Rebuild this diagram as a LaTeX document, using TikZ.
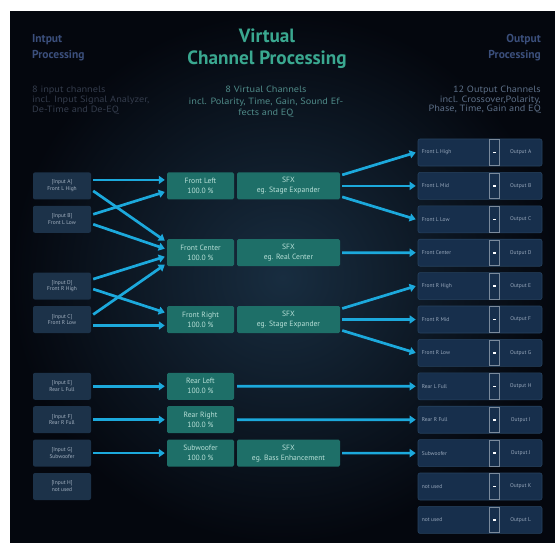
\documentclass[tikz,border=0pt]{standalone}
\usepackage{fontspec}
\setmainfont{PT Sans}
\newfontfamily\descfont[FakeStretch=1.13]{PT Sans}
\usetikzlibrary{arrows.meta,calc}
\definecolor{bgc}{HTML}{04070E}
\definecolor{glowc}{HTML}{182D40}
\definecolor{hdrblue}{HTML}{3B4F7C}
\definecolor{descl}{HTML}{343C4C}
\definecolor{descm}{HTML}{4F8A88}
\definecolor{descr}{HTML}{5C6E86}
\definecolor{titlec}{HTML}{3AA890}
\definecolor{infill}{HTML}{1C3249}
\definecolor{intext}{HTML}{A4B2C2}
\definecolor{vfill}{HTML}{1E6F68}
\definecolor{vtext}{HTML}{B8E0D8}
\definecolor{ofill}{HTML}{172F4C}
\definecolor{oborder}{HTML}{26425F}
\definecolor{otext}{HTML}{98A8BC}
\definecolor{arrc}{HTML}{1CA9DC}
\definecolor{ddc}{HTML}{7A8A9C}
\tikzset{
  inbox/.style={rectangle, rounded corners=2pt, fill=infill, minimum width=58pt, minimum height=27pt, inner sep=0pt, align=center, text=intext, font=\fontsize{5.5}{6.8}\selectfont},
  vbox/.style={rectangle, rounded corners=1.5pt, fill=vfill, minimum width=67pt, minimum height=27pt, inner sep=0pt, align=center, text=vtext, font=\fontsize{7.6}{10}\selectfont},
  sfxbox/.style={vbox, minimum width=103pt},
  outbox/.style={rectangle, rounded corners=2pt, fill=ofill, draw=oborder, line width=0.6pt, minimum width=124pt, minimum height=27pt, inner sep=0pt},
  olabel/.style={inner sep=0pt, text=otext, font=\fontsize{5.5}{6.5}\selectfont},
  ddbox/.style={draw=ddc, line width=0.6pt},
  arr/.style={draw=arrc, line width=2.7pt, -{Triangle[length=6pt,width=8pt]}},
  hdr/.style={inner sep=0pt, text=hdrblue, font=\fontsize{11.5}{13}\selectfont\bfseries},
  ttl/.style={inner sep=0pt, text=titlec, font=\fontsize{19.2}{22}\selectfont\bfseries},
  dsc/.style={inner sep=0pt, font=\descfont\fontsize{9.1}{10}\selectfont},
}
\begin{document}
\begin{tikzpicture}[x=1pt,y=-1pt]
\useasboundingbox (0,0) rectangle (555,543);
\fill[white] (0,0) rectangle (555,543);
\shade[inner color=glowc, outer color=bgc] (10,12) rectangle (555,543);
% headers
\node[hdr, anchor=base west] (h1) at (32,43) {Intput};
\node[hdr, anchor=base west] (h2) at (32,59) {Processing};
\node[ttl, anchor=base] (t1) at (267,43) {Virtual};
\node[ttl, anchor=base] (t2) at (267,65) {Channel Processing};
\node[hdr, anchor=base east] (h3) at (541,43) {Output};
\node[hdr, anchor=base east] (h4) at (541,59) {Processing};
% descriptions
\node[dsc, text=descl, anchor=base west] (d1) at (32,92.5) {8 input channels};
\node[dsc, text=descl, anchor=base west] (d2) at (32,102.5) {incl. Input Signal Analyzer,};
\node[dsc, text=descl, anchor=base west] (d3) at (32,112.5) {De-Time and De-EQ};
\node[dsc, text=descm, anchor=base] (d4) at (266,93) {8 Virtual Channels};
\node[dsc, text=descm, anchor=base] (d5) at (266,104.5) {incl. Polarity, Time, Gain, Sound Ef-};
\node[dsc, text=descm, anchor=base] (d6) at (266,116) {fects and EQ};
\node[dsc, text=descr, anchor=base east] (d7) at (541,93) {12 Output Channels};
\node[dsc, text=descr, anchor=base east] (d8) at (541,102.5) {incl. Crossover,Polarity,};
\node[dsc, text=descr, anchor=base east] (d9) at (541,112) {Phase, Time, Gain and EQ};
% input boxes
\node[inbox] (inA) at (62,185.9) {[Input A]\\Front L High};
\node[inbox] (inB) at (62,219.3) {[Input B]\\Front L Low};
\node[inbox] (inD) at (62,286.1) {[Input D]\\Front R High};
\node[inbox] (inC) at (62,319.5) {[Input C]\\Front R Low};
\node[inbox] (inE) at (62,386.3) {[Input E]\\Rear L Full};
\node[inbox] (inF) at (62,419.7) {[Input F]\\Rear R Full};
\node[inbox] (inG) at (62,453.1) {[Input G]\\Subwoofer};
\node[inbox] (inH) at (62,486.5) {[Input H]\\not used};
% virtual boxes
\node[vbox] (vFL) at (200.5,185.9) {Front Left\\100.0 \%};
\node[vbox] (vFC) at (200.5,252.7) {Front Center\\100.0 \%};
\node[vbox] (vFR) at (200.5,319.5) {Front Right\\100.0 \%};
\node[vbox] (vRL) at (200.5,386.3) {Rear Left\\100.0 \%};
\node[vbox] (vRR) at (200.5,419.7) {Rear Right\\100.0 \%};
\node[vbox] (vSub) at (200.5,453.1) {Subwoofer\\100.0 \%};
\node[sfxbox] (sFL) at (288.5,185.9) {SFX\\eg. Stage Expander};
\node[sfxbox] (sFC) at (288.5,252.7) {SFX\\eg. Real Center};
\node[sfxbox] (sFR) at (288.5,319.5) {SFX\\eg. Stage Expander};
\node[sfxbox] (sSub) at (288.5,453.1) {SFX\\eg. Bass Enhancement};
% output boxes
\foreach \r/\k/\lab in {0/A/Front L High, 1/B/Front L Mid, 2/C/Front L Low, 3/D/Front Center, 4/E/Front R High, 5/F/Front R Mid, 6/G/Front R Low, 7/H/Rear L Full, 8/I/Rear R Full, 9/J/Subwoofer, 10/K/not used, 11/L/not used}{
  \node[outbox] (o\k) at (480,152.5+33.4*\r) {};
  \node[olabel, anchor=west] (ol\k) at ($(o\k.west)+(4,0)$) {\lab};
  \draw[ddbox] ($(o\k.north west)+(72,1)$) rectangle ($(o\k.south west)+(82,-1)$);
  \fill[white] ($(o\k.west)+(75.3,-0.8)$) rectangle ($(o\k.west)+(78.7,0.8)$);
  \node[olabel, anchor=center] (on\k) at ($(o\k.west)+(103,0)$) {Output \k};
}
% input -> virtual
\draw[arr] ($(inA.east)+(2,-6)$) -- ($(vFL.west)+(-2,-6)$);
\draw[arr] ($(inA.east)+(2,5)$) -- ($(vFC.west)+(-2,-12)$);
\draw[arr] ($(inB.east)+(2,-5)$) -- ($(vFL.west)+(-2,6)$);
\draw[arr] ($(inB.east)+(2,5)$) -- ($(vFC.west)+(-2,-4)$);
\draw[arr] ($(inD.east)+(2,-7)$) -- ($(vFC.west)+(-2,4)$);
\draw[arr] ($(inD.east)+(2,3)$) -- ($(vFR.west)+(-2,-7)$);
\draw[arr] ($(inC.east)+(2,-5)$) -- ($(vFC.west)+(-2,12)$);
\draw[arr] ($(inC.east)+(2,6)$) -- ($(vFR.west)+(-2,6)$);
\draw[arr] ($(inE.east)+(2,0)$) -- ($(vRL.west)+(-2,0)$);
\draw[arr] ($(inF.east)+(2,0)$) -- ($(vRR.west)+(-2,0)$);
\draw[arr] ($(inG.east)+(2,0)$) -- ($(vSub.west)+(-2,0)$);
% virtual -> output
\draw[arr] ($(sFL.east)+(2,-11)$) -- ($(oA.west)+(-2,0)$);
\draw[arr] ($(sFL.east)+(2,0)$) -- ($(oB.west)+(-2,0)$);
\draw[arr] ($(sFL.east)+(2,11)$) -- ($(oC.west)+(-2,0)$);
\draw[arr] ($(sFC.east)+(2,0)$) -- ($(oD.west)+(-2,0)$);
\draw[arr] ($(sFR.east)+(2,-11)$) -- ($(oE.west)+(-2,0)$);
\draw[arr] ($(sFR.east)+(2,0)$) -- ($(oF.west)+(-2,0)$);
\draw[arr] ($(sFR.east)+(2,11)$) -- ($(oG.west)+(-2,0)$);
\draw[arr] ($(vRL.east)+(3,0)$) -- ($(oH.west)+(-2,0)$);
\draw[arr] ($(vRR.east)+(3,0)$) -- ($(oI.west)+(-2,0)$);
\draw[arr] ($(sSub.east)+(2,0)$) -- ($(oJ.west)+(-2,0)$);
\end{tikzpicture}
\end{document}
